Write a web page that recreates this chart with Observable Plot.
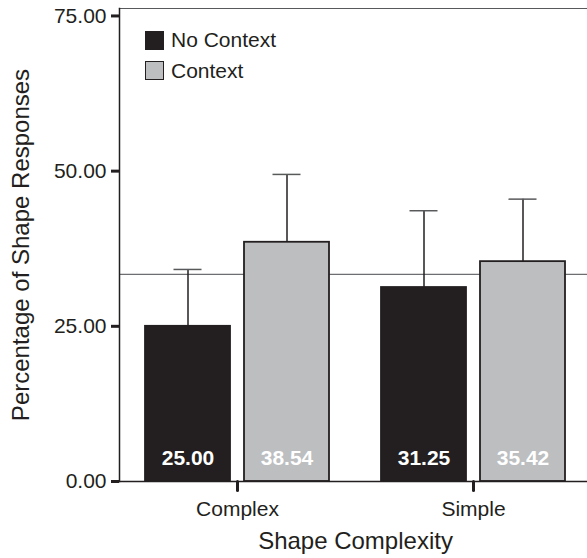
<!DOCTYPE html>
<html><head><meta charset="utf-8">
<script src="https://cdn.jsdelivr.net/npm/d3@7"></script>
<script src="https://cdn.jsdelivr.net/npm/@observablehq/plot@0.6"></script>
<style>
html,body{margin:0;padding:0;background:#fff;overflow:hidden}
#wrap{position:relative;width:587px;height:558px;overflow:hidden;font-family:"Liberation Sans",Arial,Helvetica,sans-serif;color:#231f20}
#legend{position:absolute;left:145px;top:30px}
#legend .row{display:flex;align-items:center;height:20px;margin-bottom:10.5px;font-size:21px;line-height:20px}
#legend .sw{width:17px;height:17px;border:1.5px solid #231f20;margin-right:7px}
g[aria-label="y-axis label"], g[aria-label="fx-axis label"]{font-size:24px}
</style></head><body><div id="wrap"></div>
<script>
const complexities = ["Complex", "Simple"];
const conditions = ["No Context", "Context"];
const noContextValues = [25.00, 31.25];
const contextValues = [38.54, 35.42];
const noContextUpper = [34.16, 43.62];
const contextUpper = [49.47, 45.49];
const referenceValue = 33.36;
const yTicks = [0, 25, 50, 75];
const yMax = 76.2;
const barColors = ["#231f20", "#bcbec0"];
const xTitle = "Shape Complexity";
const yTitle = "Percentage of Shape Responses";

const fmt = d3.format(".2f");
const rows = [];
complexities.forEach((c, i) => {
  rows.push({complexity: c, condition: conditions[0], value: noContextValues[i], upper: noContextUpper[i]});
  rows.push({complexity: c, condition: conditions[1], value: contextValues[i], upper: contextUpper[i]});
});

const ink = "#231f20";
const tickShape = {draw(context, l) { context.moveTo(0, 0); context.lineTo(0, -l); }};
const chart = Plot.plot({
  width: 587, height: 558,
  marginLeft: 118, marginRight: 0, marginTop: 8, marginBottom: 77,
  style: {fontFamily: '"Liberation Sans", Arial, Helvetica, sans-serif', color: ink, background: "white"},
  fx: {domain: complexities, range: [118, 591], paddingInner: 0, paddingOuter: 0},
  x: {domain: conditions, paddingInner: 0.14, paddingOuter: 0.2525, axis: null},
  y: {domain: [0, yMax], axis: null},
  color: {domain: conditions, range: barColors},
  marks: [
    Plot.ruleY([referenceValue], {stroke: "#6d6e71", strokeWidth: 1.2}),
    Plot.barY(rows, {fx: "complexity", x: "condition", y: "value", fill: "condition", stroke: ink, strokeWidth: 1.8}),
    Plot.ruleX(rows, {fx: "complexity", x: "condition", y1: "value", y2: "upper", stroke: ink, strokeWidth: 1.5}),
    Plot.tickY(rows, {fx: "complexity", x: "condition", y: "upper", stroke: "#58595b", strokeWidth: 1.5, insetLeft: 28.5, insetRight: 28.5}),
    Plot.text(rows, {fx: "complexity", x: "condition", y: 0, text: d => fmt(d.value), fill: "white", fontWeight: "bold", fontSize: 21, dy: -23}),
    Plot.ruleY([0], {stroke: ink, strokeWidth: 1.5}),
    Plot.vector(complexities, {fx: d => d, frameAnchor: "bottom", length: 9, rotate: 180, anchor: "start", shape: tickShape, stroke: ink, strokeWidth: 3}),
    Plot.frame({anchor: "top", facet: "super", stroke: "#58595b", strokeWidth: 1.2}),
    Plot.frame({anchor: "left", facet: "super", stroke: ink, strokeWidth: 1.5}),
    Plot.axisY({ticks: yTicks, tickFormat: fmt, tickSize: 8, tickPadding: 5, fontSize: 21, strokeWidth: 3, stroke: ink,
      label: yTitle, labelAnchor: "center", labelArrow: "none", labelOffset: 108}),
    Plot.axisFx({anchor: "bottom", tickSize: 0, tickPadding: 20, fontSize: 21,
      label: xTitle, labelAnchor: "center", labelArrow: "none", labelOffset: 67})
  ]
});
const wrap = document.getElementById("wrap");
wrap.appendChild(chart);

const legend = document.createElement("div");
legend.id = "legend";
conditions.forEach((c, i) => {
  const row = document.createElement("div");
  row.className = "row";
  const sw = document.createElement("div");
  sw.className = "sw";
  sw.style.background = barColors[i];
  const t = document.createElement("span");
  t.textContent = c;
  row.appendChild(sw); row.appendChild(t);
  legend.appendChild(row);
});
wrap.appendChild(legend);
</script></body></html>
